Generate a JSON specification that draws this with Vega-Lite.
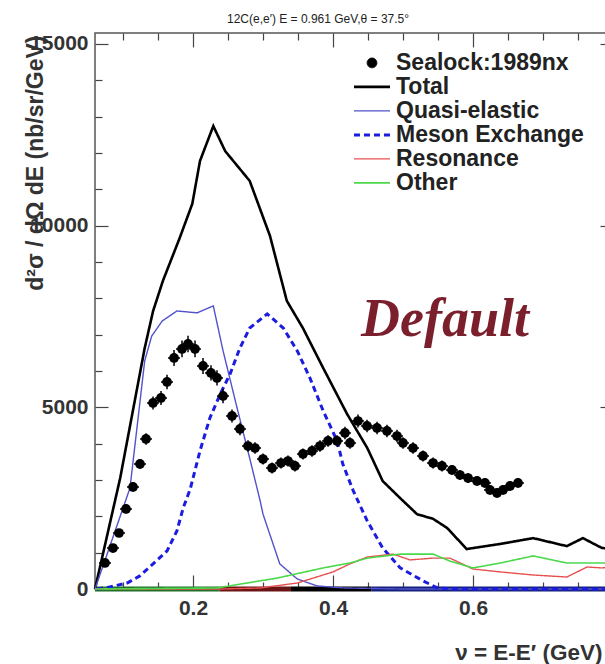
{
  "$schema": "https://vega.github.io/schema/vega-lite/v6.json",
  "width": 518,
  "height": 556,
  "autosize": {"type": "none"},
  "padding": {"left": 95, "top": 33, "right": 0, "bottom": 75},
  "background": "white",
  "config": {
    "font": "Liberation Sans",
    "view": {"stroke": "#555", "strokeWidth": 1.5},
    "axis": {"domain": false, "grid": false, "tickColor": "#444", "tickWidth": 1.2, "labelFont": "Liberation Sans", "labelFontWeight": "bold", "labelFontSize": 21, "labelColor": "#333", "titleFont": "Liberation Sans", "titleFontWeight": "bold", "titleColor": "#333"}
  },
  "title": {"text": "12C(e,e′) E = 0.961 GeV,θ = 37.5°", "fontSize": 12, "fontWeight": "normal", "font": "Liberation Sans", "color": "#222", "anchor": "middle", "dx": -36, "dy": 15, "baseline": "bottom", "offset": 9},
  "datasets": {
    "band": [
      {"p": "Other", "v0": 0.06, "v1": 0.238},
      {"p": "Resonance", "v0": 0.238, "v1": 0.34},
      {"p": "Total", "v0": 0.34, "v1": 0.455},
      {"p": "Meson Exchange", "v0": 0.455, "v1": 0.8}
    ],
    "curves": [
      {"s": "Total", "v": 0.06, "y": 0},
      {"s": "Total", "v": 0.096, "y": 3055},
      {"s": "Total", "v": 0.131, "y": 6630},
      {"s": "Total", "v": 0.143, "y": 7650},
      {"s": "Total", "v": 0.157, "y": 8480},
      {"s": "Total", "v": 0.181, "y": 9660},
      {"s": "Total", "v": 0.199, "y": 10600},
      {"s": "Total", "v": 0.21, "y": 11780},
      {"s": "Total", "v": 0.229, "y": 12740},
      {"s": "Total", "v": 0.246, "y": 12050},
      {"s": "Total", "v": 0.281, "y": 11230},
      {"s": "Total", "v": 0.31, "y": 9715},
      {"s": "Total", "v": 0.334, "y": 7930},
      {"s": "Total", "v": 0.357, "y": 7180},
      {"s": "Total", "v": 0.386, "y": 6080},
      {"s": "Total", "v": 0.42, "y": 4820},
      {"s": "Total", "v": 0.449, "y": 3880},
      {"s": "Total", "v": 0.471, "y": 2970},
      {"s": "Total", "v": 0.496, "y": 2500},
      {"s": "Total", "v": 0.52, "y": 2060},
      {"s": "Total", "v": 0.543, "y": 1930},
      {"s": "Total", "v": 0.563, "y": 1680},
      {"s": "Total", "v": 0.591, "y": 1100},
      {"s": "Total", "v": 0.639, "y": 1240},
      {"s": "Total", "v": 0.686, "y": 1400},
      {"s": "Total", "v": 0.734, "y": 1180},
      {"s": "Total", "v": 0.757, "y": 1400},
      {"s": "Total", "v": 0.784, "y": 1130},
      {"s": "Total", "v": 0.8, "y": 1100},
      {"s": "Quasi-elastic", "v": 0.06, "y": 0},
      {"s": "Quasi-elastic", "v": 0.11, "y": 2780},
      {"s": "Quasi-elastic", "v": 0.131, "y": 6275},
      {"s": "Quasi-elastic", "v": 0.141, "y": 6960},
      {"s": "Quasi-elastic", "v": 0.156, "y": 7375},
      {"s": "Quasi-elastic", "v": 0.177, "y": 7650},
      {"s": "Quasi-elastic", "v": 0.206, "y": 7600},
      {"s": "Quasi-elastic", "v": 0.229, "y": 7790},
      {"s": "Quasi-elastic", "v": 0.243, "y": 6550},
      {"s": "Quasi-elastic", "v": 0.263, "y": 4980},
      {"s": "Quasi-elastic", "v": 0.281, "y": 3600},
      {"s": "Quasi-elastic", "v": 0.296, "y": 2420},
      {"s": "Quasi-elastic", "v": 0.3, "y": 2060},
      {"s": "Quasi-elastic", "v": 0.324, "y": 690},
      {"s": "Quasi-elastic", "v": 0.349, "y": 275},
      {"s": "Quasi-elastic", "v": 0.377, "y": 85},
      {"s": "Quasi-elastic", "v": 0.414, "y": 30},
      {"s": "Quasi-elastic", "v": 0.5, "y": 0},
      {"s": "Quasi-elastic", "v": 0.8, "y": 0},
      {"s": "Meson Exchange", "v": 0.063, "y": 0},
      {"s": "Meson Exchange", "v": 0.081, "y": 55},
      {"s": "Meson Exchange", "v": 0.106, "y": 165},
      {"s": "Meson Exchange", "v": 0.124, "y": 360},
      {"s": "Meson Exchange", "v": 0.143, "y": 690},
      {"s": "Meson Exchange", "v": 0.163, "y": 1050},
      {"s": "Meson Exchange", "v": 0.177, "y": 1600},
      {"s": "Meson Exchange", "v": 0.186, "y": 2230},
      {"s": "Meson Exchange", "v": 0.196, "y": 2750},
      {"s": "Meson Exchange", "v": 0.21, "y": 3800},
      {"s": "Meson Exchange", "v": 0.224, "y": 4700},
      {"s": "Meson Exchange", "v": 0.239, "y": 5370},
      {"s": "Meson Exchange", "v": 0.253, "y": 5920},
      {"s": "Meson Exchange", "v": 0.267, "y": 6630},
      {"s": "Meson Exchange", "v": 0.281, "y": 7180},
      {"s": "Meson Exchange", "v": 0.306, "y": 7570},
      {"s": "Meson Exchange", "v": 0.329, "y": 7180},
      {"s": "Meson Exchange", "v": 0.349, "y": 6550},
      {"s": "Meson Exchange", "v": 0.367, "y": 5810},
      {"s": "Meson Exchange", "v": 0.386, "y": 4900},
      {"s": "Meson Exchange", "v": 0.406, "y": 4070},
      {"s": "Meson Exchange", "v": 0.414, "y": 3440},
      {"s": "Meson Exchange", "v": 0.429, "y": 2700},
      {"s": "Meson Exchange", "v": 0.449, "y": 1870},
      {"s": "Meson Exchange", "v": 0.471, "y": 1130},
      {"s": "Meson Exchange", "v": 0.496, "y": 580},
      {"s": "Meson Exchange", "v": 0.529, "y": 220},
      {"s": "Meson Exchange", "v": 0.549, "y": 30},
      {"s": "Meson Exchange", "v": 0.58, "y": 0},
      {"s": "Meson Exchange", "v": 0.8, "y": 0},
      {"s": "Resonance", "v": 0.06, "y": 0},
      {"s": "Resonance", "v": 0.239, "y": 0},
      {"s": "Resonance", "v": 0.296, "y": 28},
      {"s": "Resonance", "v": 0.349, "y": 165},
      {"s": "Resonance", "v": 0.4, "y": 470},
      {"s": "Resonance", "v": 0.424, "y": 690},
      {"s": "Resonance", "v": 0.449, "y": 880},
      {"s": "Resonance", "v": 0.486, "y": 960},
      {"s": "Resonance", "v": 0.51, "y": 800},
      {"s": "Resonance", "v": 0.543, "y": 850},
      {"s": "Resonance", "v": 0.567, "y": 850},
      {"s": "Resonance", "v": 0.6, "y": 550},
      {"s": "Resonance", "v": 0.639, "y": 470},
      {"s": "Resonance", "v": 0.686, "y": 385},
      {"s": "Resonance", "v": 0.734, "y": 330},
      {"s": "Resonance", "v": 0.763, "y": 605},
      {"s": "Resonance", "v": 0.784, "y": 580},
      {"s": "Resonance", "v": 0.8, "y": 605},
      {"s": "Other", "v": 0.06, "y": 0},
      {"s": "Other", "v": 0.234, "y": 28},
      {"s": "Other", "v": 0.32, "y": 300},
      {"s": "Other", "v": 0.353, "y": 440},
      {"s": "Other", "v": 0.386, "y": 580},
      {"s": "Other", "v": 0.424, "y": 715},
      {"s": "Other", "v": 0.449, "y": 850},
      {"s": "Other", "v": 0.496, "y": 960},
      {"s": "Other", "v": 0.543, "y": 960},
      {"s": "Other", "v": 0.567, "y": 770},
      {"s": "Other", "v": 0.6, "y": 580},
      {"s": "Other", "v": 0.639, "y": 715},
      {"s": "Other", "v": 0.686, "y": 910},
      {"s": "Other", "v": 0.734, "y": 715},
      {"s": "Other", "v": 0.784, "y": 715},
      {"s": "Other", "v": 0.8, "y": 715}
    ],
    "pts": [
      {"s": "Sealock:1989nx", "v": 0.0743, "y": 716, "e": 90},
      {"s": "Sealock:1989nx", "v": 0.0857, "y": 1128, "e": 100},
      {"s": "Sealock:1989nx", "v": 0.0943, "y": 1541, "e": 110},
      {"s": "Sealock:1989nx", "v": 0.1043, "y": 2202, "e": 120},
      {"s": "Sealock:1989nx", "v": 0.1143, "y": 2807, "e": 130},
      {"s": "Sealock:1989nx", "v": 0.1243, "y": 3440, "e": 140},
      {"s": "Sealock:1989nx", "v": 0.1329, "y": 4128, "e": 160},
      {"s": "Sealock:1989nx", "v": 0.1429, "y": 5119, "e": 180},
      {"s": "Sealock:1989nx", "v": 0.1543, "y": 5256, "e": 190},
      {"s": "Sealock:1989nx", "v": 0.1629, "y": 5697, "e": 200},
      {"s": "Sealock:1989nx", "v": 0.1729, "y": 6357, "e": 220},
      {"s": "Sealock:1989nx", "v": 0.1843, "y": 6605, "e": 230},
      {"s": "Sealock:1989nx", "v": 0.1929, "y": 6742, "e": 230},
      {"s": "Sealock:1989nx", "v": 0.2029, "y": 6605, "e": 230},
      {"s": "Sealock:1989nx", "v": 0.2143, "y": 6137, "e": 220},
      {"s": "Sealock:1989nx", "v": 0.2257, "y": 5945, "e": 210},
      {"s": "Sealock:1989nx", "v": 0.2343, "y": 5807, "e": 210},
      {"s": "Sealock:1989nx", "v": 0.2429, "y": 5312, "e": 200},
      {"s": "Sealock:1989nx", "v": 0.2557, "y": 4761, "e": 180},
      {"s": "Sealock:1989nx", "v": 0.2671, "y": 4403, "e": 170},
      {"s": "Sealock:1989nx", "v": 0.2786, "y": 3935, "e": 160},
      {"s": "Sealock:1989nx", "v": 0.2886, "y": 3880, "e": 160},
      {"s": "Sealock:1989nx", "v": 0.3, "y": 3577, "e": 150},
      {"s": "Sealock:1989nx", "v": 0.3129, "y": 3330, "e": 150},
      {"s": "Sealock:1989nx", "v": 0.3257, "y": 3467, "e": 150},
      {"s": "Sealock:1989nx", "v": 0.3357, "y": 3522, "e": 150},
      {"s": "Sealock:1989nx", "v": 0.3457, "y": 3385, "e": 150},
      {"s": "Sealock:1989nx", "v": 0.3571, "y": 3715, "e": 150},
      {"s": "Sealock:1989nx", "v": 0.37, "y": 3798, "e": 160},
      {"s": "Sealock:1989nx", "v": 0.3814, "y": 3935, "e": 160},
      {"s": "Sealock:1989nx", "v": 0.3929, "y": 4073, "e": 160},
      {"s": "Sealock:1989nx", "v": 0.4057, "y": 4073, "e": 160},
      {"s": "Sealock:1989nx", "v": 0.4171, "y": 4293, "e": 170},
      {"s": "Sealock:1989nx", "v": 0.4243, "y": 4018, "e": 160},
      {"s": "Sealock:1989nx", "v": 0.4357, "y": 4623, "e": 180},
      {"s": "Sealock:1989nx", "v": 0.4486, "y": 4486, "e": 170},
      {"s": "Sealock:1989nx", "v": 0.4629, "y": 4431, "e": 170},
      {"s": "Sealock:1989nx", "v": 0.4771, "y": 4348, "e": 170},
      {"s": "Sealock:1989nx", "v": 0.4914, "y": 4210, "e": 170},
      {"s": "Sealock:1989nx", "v": 0.5, "y": 4018, "e": 160},
      {"s": "Sealock:1989nx", "v": 0.5143, "y": 3880, "e": 160},
      {"s": "Sealock:1989nx", "v": 0.5286, "y": 3660, "e": 150},
      {"s": "Sealock:1989nx", "v": 0.5429, "y": 3467, "e": 150},
      {"s": "Sealock:1989nx", "v": 0.5557, "y": 3385, "e": 150},
      {"s": "Sealock:1989nx", "v": 0.57, "y": 3275, "e": 140},
      {"s": "Sealock:1989nx", "v": 0.5814, "y": 3137, "e": 140},
      {"s": "Sealock:1989nx", "v": 0.5929, "y": 3054, "e": 140},
      {"s": "Sealock:1989nx", "v": 0.6057, "y": 2972, "e": 130},
      {"s": "Sealock:1989nx", "v": 0.6171, "y": 2917, "e": 130},
      {"s": "Sealock:1989nx", "v": 0.6243, "y": 2725, "e": 130},
      {"s": "Sealock:1989nx", "v": 0.6343, "y": 2642, "e": 130},
      {"s": "Sealock:1989nx", "v": 0.6429, "y": 2725, "e": 130},
      {"s": "Sealock:1989nx", "v": 0.6529, "y": 2835, "e": 130},
      {"s": "Sealock:1989nx", "v": 0.6643, "y": 2917, "e": 130}
    ]
  },
  "layer": [
    {
      "data": {"name": "band"},
      "mark": {"type": "rule", "strokeWidth": 5},
      "encoding": {
        "x": {"field": "v0", "type": "quantitative", "scale": {"domain": [0.06, 0.8], "nice": false, "zero": false},
          "axis": {"orient": "bottom", "values": [0.2, 0.4, 0.6], "format": ".1f", "tickSize": -14, "labelPadding": 22,
            "title": "ν = E-E′ (GeV)", "titleFontSize": 22.5, "titleAnchor": "end", "titleAlign": "right", "titleBaseline": "alphabetic", "titleX": 507, "titleY": 70}},
        "x2": {"field": "v1"},
        "y": {"datum": 0, "type": "quantitative", "scale": {"domain": [0, 15300], "nice": false, "zero": false},
          "axis": {"orient": "left", "values": [0, 5000, 10000, 15000], "format": "d", "tickSize": -13, "labelPadding": 20,
            "title": "d²σ / dΩ dE (nb/sr/GeV)", "titleFontSize": 23, "titleAngle": -90, "titleAnchor": "end", "titleAlign": "right", "titleBaseline": "alphabetic", "titleX": -53, "titleY": 2}},
        "stroke": {"field": "p", "type": "nominal", "legend": null,
          "scale": {"domain": ["Other", "Resonance", "Total", "Meson Exchange"], "range": ["#22702a", "#6a1414", "#000000", "#14207a"]}}
      }
    },
    {
      "data": {"name": "curves"},
      "mark": {"type": "line"},
      "encoding": {
        "x": {"field": "v", "type": "quantitative", "scale": {"domain": [0.06, 0.8], "nice": false, "zero": false},
          "axis": {"orient": "bottom", "values": [0.1, 0.15, 0.25, 0.3, 0.35, 0.45, 0.5, 0.55, 0.65, 0.7, 0.75], "tickSize": -7, "labels": false, "title": null}},
        "y": {"field": "y", "type": "quantitative", "scale": {"domain": [0, 15300], "nice": false, "zero": false},
          "axis": {"orient": "left", "values": [1000, 2000, 3000, 4000, 6000, 7000, 8000, 9000, 11000, 12000, 13000, 14000], "tickSize": -7, "labels": false, "title": null}},
        "color": {"field": "s", "type": "nominal",
          "scale": {"domain": ["Sealock:1989nx", "Total", "Quasi-elastic", "Meson Exchange", "Resonance", "Other"], "range": ["#000000", "#000000", "#5252cc", "#1c1ce0", "#e85050", "#4cd84c"]},
          "legend": {"orient": "none", "legendX": 257, "legendY": 18, "title": null, "padding": 0, "rowPadding": 0, "clipHeight": 23.8, "labelOffset": 4, "labelLimit": 400,
            "labelFont": "Liberation Sans", "labelFontWeight": "bold", "labelFontSize": 23, "labelColor": "#222", "symbolFillColor": "#000000"}},
        "strokeWidth": {"field": "s", "type": "nominal",
          "scale": {"type": "ordinal", "domain": ["Sealock:1989nx", "Total", "Quasi-elastic", "Meson Exchange", "Resonance", "Other"], "range": [1, 2.6, 1.4, 3, 1.4, 1.6]}},
        "strokeDash": {"field": "s", "type": "nominal",
          "scale": {"domain": ["Sealock:1989nx", "Total", "Quasi-elastic", "Meson Exchange", "Resonance", "Other"], "range": [[1, 0], [1, 0], [1, 0], [6, 4], [1, 0], [1, 0]]}}
      }
    },
    {
      "data": {"name": "pts"},
      "mark": {"type": "errorbar", "color": "#000000", "thickness": 1.5},
      "encoding": {
        "x": {"field": "v", "type": "quantitative", "scale": {"domain": [0.06, 0.8], "nice": false, "zero": false}, "axis": null},
        "y": {"field": "y", "type": "quantitative", "scale": {"domain": [0, 15300], "nice": false, "zero": false}, "axis": null},
        "yError": {"field": "e"}
      }
    },
    {
      "data": {"name": "pts"},
      "mark": {"type": "tick", "orient": "horizontal", "color": "#000000", "size": 12, "thickness": 1.5, "opacity": 1},
      "encoding": {
        "x": {"field": "v", "type": "quantitative", "scale": {"domain": [0.06, 0.8], "nice": false, "zero": false}, "axis": null},
        "y": {"field": "y", "type": "quantitative", "scale": {"domain": [0, 15300], "nice": false, "zero": false}, "axis": null}
      }
    },
    {
      "data": {"name": "pts"},
      "mark": {"type": "point", "filled": true, "color": "#000000", "opacity": 1},
      "encoding": {
        "x": {"field": "v", "type": "quantitative", "scale": {"domain": [0.06, 0.8], "nice": false, "zero": false},
          "axis": {"orient": "top", "values": [0.2, 0.4, 0.6], "tickSize": -14, "labels": false, "title": null}},
        "y": {"field": "y", "type": "quantitative", "scale": {"domain": [0, 15300], "nice": false, "zero": false},
          "axis": {"orient": "right", "values": [0, 5000, 10000, 15000], "tickSize": -13, "labels": false, "title": null}},
        "shape": {"field": "s", "type": "nominal",
          "scale": {"domain": ["Sealock:1989nx", "Total", "Quasi-elastic", "Meson Exchange", "Resonance", "Other"], "range": ["circle", "stroke", "stroke", "stroke", "stroke", "stroke"]}},
        "size": {"field": "s", "type": "nominal",
          "scale": {"type": "ordinal", "domain": ["Sealock:1989nx", "Total", "Quasi-elastic", "Meson Exchange", "Resonance", "Other"], "range": [95, 1300, 1300, 1300, 1300, 1300]}}
      }
    },
    {
      "data": {"values": [{"label": "Default"}]},
      "mark": {"type": "text", "font": "Liberation Serif", "fontStyle": "italic", "fontWeight": "bold", "fontSize": 54, "color": "#7a1f2b", "align": "center", "baseline": "alphabetic"},
      "encoding": {
        "text": {"field": "label"},
        "x": {"datum": 0.56, "type": "quantitative", "scale": {"domain": [0.06, 0.8], "nice": false, "zero": false},
          "axis": {"orient": "top", "values": [0.1, 0.15, 0.25, 0.3, 0.35, 0.45, 0.5, 0.55, 0.65, 0.7, 0.75], "tickSize": -7, "labels": false, "title": null}},
        "y": {"datum": 6950, "type": "quantitative", "scale": {"domain": [0, 15300], "nice": false, "zero": false},
          "axis": {"orient": "right", "values": [1000, 2000, 3000, 4000, 6000, 7000, 8000, 9000, 11000, 12000, 13000, 14000], "tickSize": -7, "labels": false, "title": null}}
      }
    }
  ],
  "resolve": {"axis": {"x": "independent", "y": "independent"}}
}
